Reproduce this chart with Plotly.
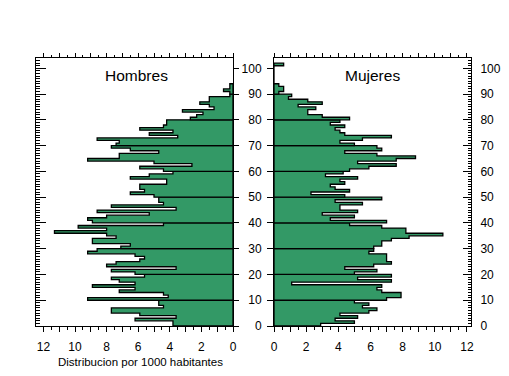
import plotly.graph_objects as go

# Distribution per 1000 inhabitants, single-year ages
hombres = [3.8, 3.8, 6.2, 3.6, 5.9, 7.7, 7.7, 4.4, 4.7, 4.7,
           9.2, 4.1, 4.4, 7.2, 6.2, 8.9, 6.2, 7.2, 7.7, 5.6,
           6.2, 7.7, 3.6, 8.0, 7.4, 5.9, 5.6, 6.2, 9.2, 8.6,
           7.1, 6.5, 8.9, 8.9, 7.4, 8.0, 11.3, 8.0, 9.8, 4.4,
           8.9, 9.2, 8.0, 5.3, 8.6, 3.6, 7.7, 4.4, 4.7, 4.7,
           5.0, 6.5, 5.6, 5.9, 5.9, 4.2, 4.2, 6.5, 5.3, 3.8,
           4.4, 5.9, 2.6, 5.0, 9.2, 7.2, 7.2, 4.7, 6.5, 7.7,
           7.4, 7.2, 8.6, 3.5, 5.3, 3.8, 5.9, 4.4, 4.2, 4.2,
           2.7, 2.3, 1.9, 3.2, 1.2, 1.5, 2.1, 1.5, 1.5, 0.2,
           0.2, 0.6, 0.2, 0.2]
mujeres = [2.9, 5.0, 3.8, 5.2, 4.1, 5.9, 6.4, 5.5, 5.9, 5.0,
           7.0, 7.9, 7.9, 6.7, 6.4, 6.7, 1.1, 7.3, 5.2, 7.3,
           5.0, 6.4, 4.4, 6.2, 7.3, 7.0, 7.0, 7.0, 5.9, 6.2,
           6.2, 6.7, 6.7, 7.3, 8.4, 10.5, 8.2, 8.2, 6.7, 4.7,
           7.0, 3.5, 5.0, 3.0, 5.2, 4.1, 4.1, 5.5, 3.8, 6.7,
           4.4, 2.3, 4.7, 3.8, 3.5, 4.4, 4.1, 5.2, 3.2, 4.3,
           4.7, 5.9, 7.6, 5.2, 7.6, 8.8, 6.4, 4.4, 6.7, 6.4,
           5.0, 4.1, 5.5, 7.3, 4.4, 4.1, 3.8, 4.4, 3.5, 4.1,
           4.7, 3.0, 2.1, 2.1, 2.6, 1.5, 3.0, 2.1, 0.9, 1.1,
           0.3, 0.6, 0.6, 0.3, 0, 0, 0, 0, 0, 0,
           0, 0.6]

x_tickvals = list(range(0, 13))
x_ticktext = [str(v) if v % 2 == 0 else "" for v in x_tickvals]
y_tickvals = list(range(0, 101, 10))

GREEN = "#339966"
FONT = "Arial, Liberation Sans, sans-serif"


def decade_paths(values):
    for start in range(0, len(values), 10):
        seg = values[start:start + 10]
        xs, ys = [0], [start]
        for i, v in enumerate(seg):
            a = start + i
            xs += [v, v]
            ys += [a, a + 1]
        xs += [0, 0]
        ys += [start + len(seg), start]
        yield xs, ys


fig = go.Figure()
for xs, ys in decade_paths(hombres):
    fig.add_trace(go.Scatter(x=xs, y=ys, mode="lines", fill="toself",
                             fillcolor=GREEN, line=dict(color="black", width=1.3),
                             xaxis="x", yaxis="y", hoverinfo="skip", showlegend=False))
for xs, ys in decade_paths(mujeres):
    fig.add_trace(go.Scatter(x=xs, y=ys, mode="lines", fill="toself",
                             fillcolor=GREEN, line=dict(color="black", width=1.3),
                             xaxis="x2", yaxis="y2", hoverinfo="skip", showlegend=False))
# dummy traces for overlay axes
for xa, ya in [("x3", "y"), ("x", "y3"), ("x4", "y2"), ("x2", "y4")]:
    fig.add_trace(go.Scatter(x=[None], y=[None], xaxis=xa, yaxis=ya,
                             showlegend=False, hoverinfo="skip"))

# the page body has an 8px margin, so the figure is drawn 8px in from the corner
OFF = 8
W, H = 509 - OFF, 376 - OFF
L, R, T, B = 36 - OFF, 38, 58 - OFF, 50
pw = W - L - R
ph = H - T - B


def px_x(xabs):
    return (xabs - OFF - L) / pw


def px_y(yabs):
    return 1 - (yabs - OFF - T) / ph


dom_left = [0, px_x(233)]
dom_right = [px_x(274), 1]
range_left = [12.47, 0]
range_right = [0, 12.25]
range_y = [0, 104]

axis_common = dict(showline=True, linecolor="black", linewidth=1, showgrid=False,
                   zeroline=False, tickcolor="black", tickwidth=1, automargin=False,
                   tickfont=dict(family=FONT, size=12, color="black"))

bottom_x = dict(axis_common, tickmode="array", tickvals=x_tickvals, ticktext=x_ticktext,
                ticks="outside", ticklen=5, ticklabelstandoff=5,
                minor=dict(ticks="outside", ticklen=3, dtick=0.5, tick0=0,
                           tickcolor="black", showgrid=False))
top_x = dict(axis_common, tickmode="array", tickvals=x_tickvals, showticklabels=False,
             ticks="outside", ticklen=4, side="top",
             minor=dict(ticks="outside", ticklen=2, dtick=0.5, tick0=0,
                        tickcolor="black", showgrid=False))

fig.update_layout(
    width=W, height=H, margin=dict(l=L, r=R, t=T, b=B, autoexpand=False),
    paper_bgcolor="white", plot_bgcolor="white", showlegend=False,
    xaxis=dict(bottom_x, domain=dom_left, range=range_left, anchor="y"),
    xaxis2=dict(bottom_x, domain=dom_right, range=range_right, anchor="y2"),
    xaxis3=dict(top_x, domain=dom_left, range=range_left, anchor="y", overlaying="x"),
    xaxis4=dict(top_x, domain=dom_right, range=range_right, anchor="y2", overlaying="x2"),
    yaxis=dict(axis_common, range=range_y, anchor="x", tickvals=y_tickvals,
               showticklabels=False, ticks="inside", ticklen=10,
               minor=dict(ticks="inside", ticklen=4, dtick=1, tick0=0,
                          tickcolor="black", showgrid=False)),
    yaxis3=dict(axis_common, range=range_y, anchor="x", overlaying="y", side="right",
                tickvals=y_tickvals, showticklabels=False, ticks="outside", ticklen=5),
    yaxis2=dict(axis_common, range=range_y, anchor="x2", tickvals=y_tickvals,
                ticks="outside", ticklen=6, ticklabelstandoff=3),
    yaxis4=dict(axis_common, range=range_y, anchor="x2", overlaying="y2", side="right",
                tickvals=y_tickvals, ticks="inside", ticklen=8, ticklabelstandoff=6,
                minor=dict(ticks="inside", ticklen=3, dtick=1, tick0=0,
                           tickcolor="black", showgrid=False)),
    annotations=[
        dict(text="Hombres", xref="paper", yref="paper", x=px_x(136), y=px_y(75),
             xanchor="center", yanchor="middle", showarrow=False,
             font=dict(family=FONT, size=15.5, color="black")),
        dict(text="Mujeres", xref="paper", yref="paper", x=px_x(372), y=px_y(75),
             xanchor="center", yanchor="middle", showarrow=False,
             font=dict(family=FONT, size=15.5, color="black")),
        dict(text="Distribucion por 1000 habitantes", xref="paper", yref="paper",
             x=px_x(140), y=px_y(362), xanchor="center", yanchor="middle",
             showarrow=False, font=dict(family=FONT, size=11.5, color="black")),
    ],
)

fig.write_html("out.html")
